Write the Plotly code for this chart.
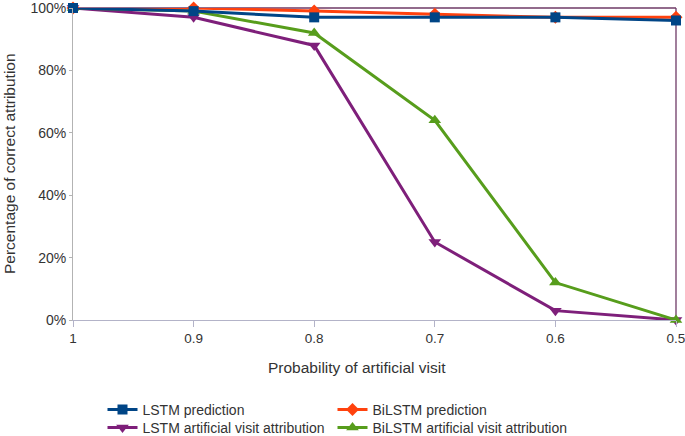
import plotly.graph_objects as go

x_vals = [1, 0.9, 0.8, 0.7, 0.6, 0.5]
x_ticks = ["1", "0.9", "0.8", "0.7", "0.6", "0.5"]
y_ticks = [0, 20, 40, 60, 80, 100]
y_tick_labels = ["0%", "20%", "40%", "60%", "80%", "100%"]
lstm_pred = [100, 99, 97, 97, 97, 96]
bilstm_pred = [100, 100, 99, 98, 97, 97]
lstm_attr = [100, 97, 88, 25, 3, 0]
bilstm_attr = [100, 99, 92, 64, 12, 0]

# name: (values, colour, symbol, size, legend id, legend x px, legend top px)
series = {
    "LSTM prediction": (lstm_pred, "#004586", "square", 10, "legend", 102.5, 394),
    "BiLSTM prediction": (bilstm_pred, "#ff420e", "diamond", 10, "legend2", 332.5, 394),
    "LSTM artificial visit attribution": (lstm_attr, "#7e1f7a", "triangle-down", 11, "legend3", 102.5, 412),
    "BiLSTM artificial visit attribution": (bilstm_attr, "#579d1c", "triangle-up", 11, "legend4", 332.5, 412),
}
draw_order = ["LSTM artificial visit attribution", "BiLSTM artificial visit attribution",
              "BiLSTM prediction", "LSTM prediction"]

W, H = 685, 436
T, B = 8, 116
PH = H - T - B
fig = go.Figure()
legends = {}
for name in draw_order:
    ys, col, sym, sz, leg, lx, ly = series[name]
    fig.add_trace(go.Scatter(
        x=x_vals, y=ys, name=name, mode="lines+markers",
        line=dict(color=col, width=3),
        marker=dict(symbol=sym, size=sz, color=col),
        cliponaxis=False, legend=leg,
    ))
    legends[leg] = dict(
        orientation="h", xref="container", yref="container",
        xanchor="left", yanchor="top", x=lx / W, y=1 - ly / H,
        font=dict(size=14, color="#333333"), itemwidth=30,
        bgcolor="rgba(0,0,0,0)",
    )

fig.update_layout(
    width=W, height=H,
    margin=dict(l=73, r=9, t=T, b=B, autoexpand=False),
    plot_bgcolor="white", paper_bgcolor="white",
    font=dict(family="Liberation Sans, Arial, sans-serif", size=13, color="#333333"),
    showlegend=True,
    **legends,
    xaxis=dict(
        range=[1, 0.5], tickvals=x_vals, ticktext=x_ticks,
        showgrid=False, zeroline=False, showline=True, linecolor="#b3b3c8", linewidth=1,
        ticks="outside", ticklen=6, tickcolor="#b3b3c8",
        tickfont=dict(size=13.5, color="#333333"), ticklabeloverflow="allow",
    ),
    yaxis=dict(
        range=[0, 100], tickvals=y_ticks, ticktext=y_tick_labels,
        showgrid=False, zeroline=False, showline=True, linecolor="#b3b3b3", linewidth=1,
        ticks="outside", ticklen=3, tickcolor="#b3b3b3",
        tickfont=dict(size=14, color="#333333"), ticklabeloverflow="allow",
    ),
    annotations=[
        dict(text="Percentage of correct attribution", textangle=-90,
             xref="paper", yref="paper", x=(9 - 73) / 603, y=0.5,
             xanchor="center", yanchor="middle", showarrow=False,
             font=dict(size=15.5, color="#333333")),
        dict(text="Probability of artificial visit",
             xref="paper", yref="paper", x=(357 - 73) / 603, y=(320 - 368) / PH,
             xanchor="center", yanchor="middle", showarrow=False,
             font=dict(size=15.5, color="#333333")),
    ],
)

fig.add_shape(type="line", xref="paper", yref="paper", x0=0, x1=1, y0=1, y1=1,
              line=dict(color="#6e3a66", width=1.3), layer="below")
fig.add_shape(type="line", xref="paper", yref="paper", x0=1, x1=1, y0=0, y1=1,
              line=dict(color="#6e3a66", width=1.3), layer="below")

fig.write_html("out.html", config={"displayModeBar": False},
               post_script="document.body.style.margin='0';document.body.style.overflow='hidden';")
